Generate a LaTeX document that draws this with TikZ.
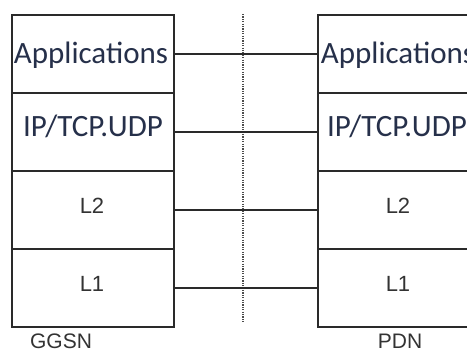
\documentclass[tikz,border=0pt]{standalone}
\usepackage{fontspec}
\newfontfamily\calib{Carlito}
\newfontfamily\arial{Liberation Sans}
\definecolor{txtnavy}{HTML}{26304A}
\definecolor{txtgray}{HTML}{333333}
\definecolor{edge}{HTML}{2A2A2A}
\begin{document}
\begin{tikzpicture}[x=1pt,y=-1pt,
  layer/.style={draw=edge,line width=1.6pt,minimum width=162pt,minimum height=78pt,inner sep=0pt,anchor=north west},
  biglabel/.style={font=\calib\fontsize{31}{31}\selectfont,text=txtnavy,anchor=base,inner sep=0pt},
  smalllabel/.style={font=\arial\fontsize{22}{22}\selectfont,text=txtgray,anchor=base,inner sep=0pt},
  namelabel/.style={font=\arial\fontsize{21}{21}\selectfont,text=txtgray,anchor=base,inner sep=0pt},
  link/.style={draw=edge,line width=1.6pt},
  divider/.style={draw=gray!60!black,line width=1.5pt,dash pattern=on 1.2pt off 1.2pt}]
\useasboundingbox (0,0) rectangle (467,352);
\clip (0,0) rectangle (467,352);
% left stack (GGSN)
\node[layer] (gapp) at (11,14) {};
\node[layer] (gip) at (11,92) {};
\node[layer] (gl2) at (11,170) {};
\node[layer] (gl1) at (11,248) {};
% right stack (PDN)
\node[layer] (papp) at (317,14) {};
\node[layer] (pip) at (317,92) {};
\node[layer] (pl2) at (317,170) {};
\node[layer] (pl1) at (317,248) {};
% labels
\node[biglabel] (tgapp) at (91,64) {Applications};
\node[biglabel] (tgip) at (93,137) {IP/TCP.UDP};
\node[smalllabel] (tgl2) at (92,214) {L2};
\node[smalllabel] (tgl1) at (92,292) {L1};
\node[biglabel] (tpapp) at (398,64) {Applications};
\node[biglabel] (tpip) at (397,137) {IP/TCP.UDP};
\node[smalllabel] (tpl2) at (398,214) {L2};
\node[smalllabel] (tpl1) at (398,292) {L1};
\node[namelabel] (ggsn) at (61,349) {GGSN};
\node[namelabel] (pdn) at (400,349) {PDN};
% divider
\coordinate (dtop) at (243,14);
\coordinate (dbot) at (243,323);
\draw[divider] (dtop) -- (dbot);
% connectors
\draw[link] (gapp.east) -- (papp.west);
\draw[link] (gip.east) -- (pip.west);
\draw[link] (gl2.east) -- (pl2.west);
\draw[link] (gl1.east) -- (pl1.west);
\end{tikzpicture}
\end{document}
